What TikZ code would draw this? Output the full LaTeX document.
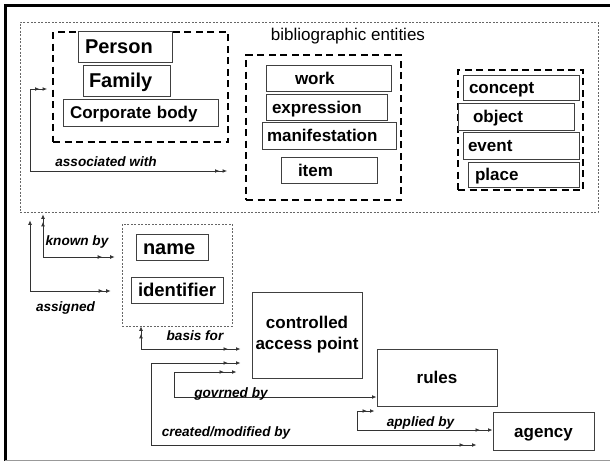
\documentclass[tikz,border=0pt]{standalone}
\usepackage{fontspec}
\setmainfont{Liberation Sans}
\usetikzlibrary{arrows.meta}

\begin{document}
\begin{tikzpicture}[x=1pt,y=-1pt,
  box/.style={draw=black!75,line width=1pt,fill=white,inner ysep=0pt,align=left,
    text height=12.2pt,text depth=0pt,font=\fontsize{17}{20}\selectfont\bfseries},
  bigbox/.style={box,text height=14.3pt,font=\fontsize{20}{24}\selectfont\bfseries},
  group/.style={draw,line width=1.8pt,dash pattern=on 7pt off 4.5pt,inner sep=0pt},
  area/.style={draw=black!60,line width=0.6pt,dash pattern=on 2pt off 1.5pt,inner sep=0pt},
  lbl/.style={inner sep=0pt,text height=10pt,text depth=3pt,font=\fontsize{13.6}{16}\selectfont\bfseries\itshape},
  link/.style={draw=black!80,line width=0.8pt},
  tips/.style={link,-{Latex[length=4.5pt,width=3.8pt,sep=3pt]Latex[length=4.5pt,width=3.8pt]}},
  tipsgap/.style={link,-{Latex[length=4.5pt,width=3.8pt,sep=8pt]Latex[length=4.5pt,width=3.8pt]}},
  tip/.style={link,-{Latex[length=4.5pt,width=3.8pt]}}]
\useasboundingbox (0,0) rectangle (610,461);
\draw[line width=3pt] (5,461) -- (5,5) -- (610,5);
\draw[black!40,line width=1pt] (5,460) -- (610,460);

\node[area,minimum width=578pt,minimum height=190pt] (entities) at (309,117) {};
\node[font=\fontsize{17}{20}\selectfont] (bib) at (348,36) {bibliographic entities};

\node[group,minimum width=175pt,minimum height=110pt] (agents) at (140.5,87) {};
\node[bigbox,text width=80pt,inner xsep=7pt,minimum height=31pt] (person) at (125,46.5) {Person};
\node[bigbox,text width=75pt,inner xsep=6pt,minimum height=31pt] (family) at (126.5,80.5) {Family};
\node[box,text width=141pt,inner xsep=7pt,minimum height=27pt] (corporate) at (140.5,112.5) {Corporate body};

\node[group,minimum width=155pt,minimum height=145pt] (works) at (323.5,127.5) {};
\node[box,text width=67pt,inner xsep=29pt,minimum height=26pt] (work) at (328.5,78) {work};
\node[box,text width=109pt,inner xsep=6pt,minimum height=26pt] (expression) at (326.5,107) {expression};
\node[box,text width=124pt,inner xsep=5pt,minimum height=27pt] (manifestation) at (329,135.5) {manifestation};
\node[box,text width=62pt,inner xsep=17pt,minimum height=26pt] (item) at (329,170) {item};

\node[group,minimum width=125pt,minimum height=120pt] (subjects) at (520.5,130) {};
\node[box,text width=104pt,inner xsep=6pt,minimum height=25pt] (concept) at (521,87.5) {concept};
\node[box,text width=86pt,inner xsep=15pt,minimum height=27pt] (object) at (516,116.5) {object};
\node[box,text width=106pt,inner xsep=5pt,minimum height=27pt] (event) at (521,145.5) {event};
\node[box,text width=97pt,inner xsep=7pt,minimum height=25pt] (place) at (523.5,174.5) {place};

\node[area,minimum width=110pt,minimum height=102pt] (names) at (177,275) {};
\node[bigbox,text width=58pt,inner xsep=7pt,minimum height=26pt] (name) at (172,247) {name};
\node[box,text width=78pt,inner xsep=7pt,minimum height=26pt,text height=13.3pt,font=\fontsize{18.5}{22}\selectfont\bfseries] (identifier) at (177,290) {identifier};

\node[box,minimum width=110pt,minimum height=86pt,align=center,text height=,text depth=,font=\fontsize{17}{21}\selectfont\bfseries] (cap) at (307,335) {controlled\\access point};
\node[box,minimum width=120pt,minimum height=57pt,align=center] (rules) at (437,377.5) {rules};
\node[box,minimum width=101pt,minimum height=38pt,align=center] (agency) at (543.5,431) {agency};

\coordinate (aw) at (30,89);
\coordinate (aw2) at (30,171);
\draw[tips,shorten >=5pt] (aw2) -- (aw) -- (aw -| agents.west);
\draw[tips,shorten >=18pt] (aw2) -- (aw2 -| works.west);
\node[lbl] (awlabel) at (106,163) {associated with};

\coordinate (kb) at (43,257);
\draw[tips,shorten >=2pt] (kb) -- (kb |- entities.south);
\draw[tipsgap,shorten >=7pt] (kb) -- (kb -| names.west);
\node[lbl] (kblabel) at (77,242) {known by};

\coordinate (as) at (30,291);
\draw[tip,shorten >=8pt] (as) -- (as |- entities.south);
\draw[tips,shorten >=11pt] (as) -- (as -| names.west);
\node[lbl] (aslabel) at (65.5,308) {assigned};

\coordinate (bf) at (141,349);
\draw[tips] (bf) -- (bf |- names.south);
\draw[tipsgap,shorten >=11pt] (bf) -- (bf -| cap.west);
\node[lbl] (bflabel) at (195,337) {basis for};

\coordinate (cm) at (151,363);
\coordinate (cm2) at (151,445);
\draw[tipsgap,shorten >=11pt] (cm2) -- (cm) -- (cm -| cap.west);
\draw[tipsgap,shorten >=16pt] (cm2) -- (cm2 -| agency.west);
\node[lbl] (cmlabel) at (226,433) {created/modified by};

\coordinate (gb) at (174,372);
\coordinate (gb2) at (174,397);
\draw[tipsgap,shorten >=15pt] (gb2) -- (gb) -- (gb -| cap.west);
\draw[tip] (gb2) -- (gb2 -| rules.west);
\node[lbl] (gblabel) at (231,394) {govrned by};

\coordinate (ab) at (357,411);
\coordinate (ab2) at (357,430);
\draw[tips,shorten >=2pt] (ab2) -- (ab) -- (ab -| rules.west);
\draw[tipsgap] (ab2) -- (ab2 -| agency.west);
\node[lbl] (ablabel) at (420.5,423) {applied by};
\end{tikzpicture}
\end{document}
